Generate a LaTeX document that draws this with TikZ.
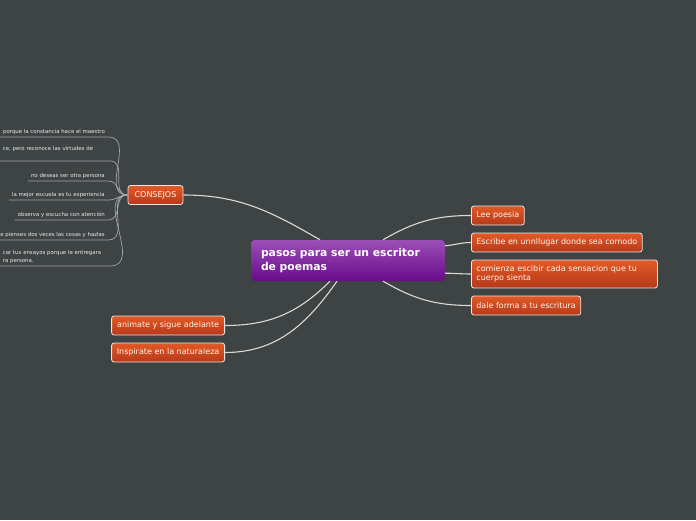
\documentclass[tikz,border=0pt]{standalone}
\usepackage{fontspec}
\setmainfont{DejaVu Sans}
\definecolor{bgGray}{HTML}{3E4343}
\definecolor{orTop}{HTML}{E25A26}
\definecolor{orBot}{HTML}{B5391A}
\definecolor{puTop}{HTML}{9B4FB7}
\definecolor{puBot}{HTML}{690A8B}
\definecolor{lineGray}{HTML}{DADADA}
\definecolor{leafGray}{HTML}{A3A6A6}
\begin{document}
\begin{tikzpicture}[x=1pt,y=-1pt,
    topic/.style={rounded corners=2.5pt, top color=orTop, bottom color=orBot, draw=white!80!gray,
        line width=0.8pt, text=white!92!orange, font=\fontsize{8}{9.5}\selectfont, inner xsep=5pt,
        inner ysep=2pt, minimum height=19pt, align=left},
    leaf/.style={anchor=south east, text=white!85!gray, font=\fontsize{5.4}{7.2}\selectfont,
        inner xsep=3pt, inner ysep=2.5pt, align=left},
    branch/.style={draw=lineGray, line width=1.1pt},
    twig/.style={draw=leafGray, line width=0.7pt}]
    % Background
    \fill[bgGray] (0,0) rectangle (696,520);
    \useasboundingbox (0,0) rectangle (696,520);
    % Central topic
    \node[rounded corners=4pt, top color=puTop, bottom color=puBot, text=white,
        font=\bfseries\fontsize{10.8}{14}\selectfont, text width=174pt, align=left,
        inner xsep=10pt, minimum height=41pt] (centro) at (348,260.5)
        {pasos para ser un escritor\\de poemas};
    % Main topics
    \node[topic, anchor=center, minimum width=55pt] (consejos) at (155.5,195) {CONSEJOS};
    \node[topic, anchor=west] (lee) at (471,215.5) {Lee poesia};
    \node[topic, anchor=west] (escribe) at (471,242.5) {Escribe en unnllugar donde sea comodo};
    \node[topic, anchor=west, text width=176pt, minimum height=28pt] (comienza) at (471,274)
        {comienza escibir cada sensacion que tu\\cuerpo sienta};
    \node[topic, anchor=west] (dale) at (471,305.5) {dale forma a tu escritura};
    \node[topic, anchor=east, minimum width=113pt] (animate) at (225,325.5) {animate y sigue adelante};
    \node[topic, anchor=east, minimum width=113pt] (inspirate) at (225,352.5) {Inspirate en la naturaleza};
    % Subtopics of CONSEJOS
    \node[leaf] (c1) at (108,137) {porque la constancia hace el maestro};
    \node[leaf, text width=104pt, text depth=8pt] (c2) at (110,161) {ce, pero reconoce las virtudes de};
    \node[leaf] (c3) at (108,181) {no deseas ser otra persona};
    \node[leaf] (c4) at (108,200) {la mejor escuela es tu experiencia};
    \node[leaf] (c5) at (108,220) {observa y escucha con atención};
    \node[leaf] (c6) at (108,240) {e pienses dos veces las cosas y hazlas};
    \node[leaf, text width=104pt] (c7) at (110,266) {car tus ensayos porque le entregara\\ra persona.};
    \foreach \c in {c1,c2,c3,c4,c5,c6,c7}
        \draw[twig] (\c.south west) -- (\c.south east) to[out=0,in=180,looseness=1.2] (consejos.west);
    % Branches
    \draw[branch] (consejos.east) to[out=0,in=150] ([xshift=-28pt]centro.north);
    \draw[branch] ([xshift=35pt]centro.north) to[out=30,in=180] (lee.west);
    \draw[branch] ([yshift=-6pt]centro.north east) to[out=5,in=180] (escribe.west);
    \draw[branch] ([yshift=8pt]centro.south east) to[out=0,in=180] (comienza.west);
    \draw[branch] ([xshift=35pt]centro.south) to[out=-30,in=180] (dale.west);
    \draw[branch] (animate.east) to[out=0,in=-135] ([xshift=-18pt]centro.south);
    \draw[branch] (inspirate.east) to[out=0,in=-125] ([xshift=-11pt]centro.south);
\end{tikzpicture}
\end{document}
